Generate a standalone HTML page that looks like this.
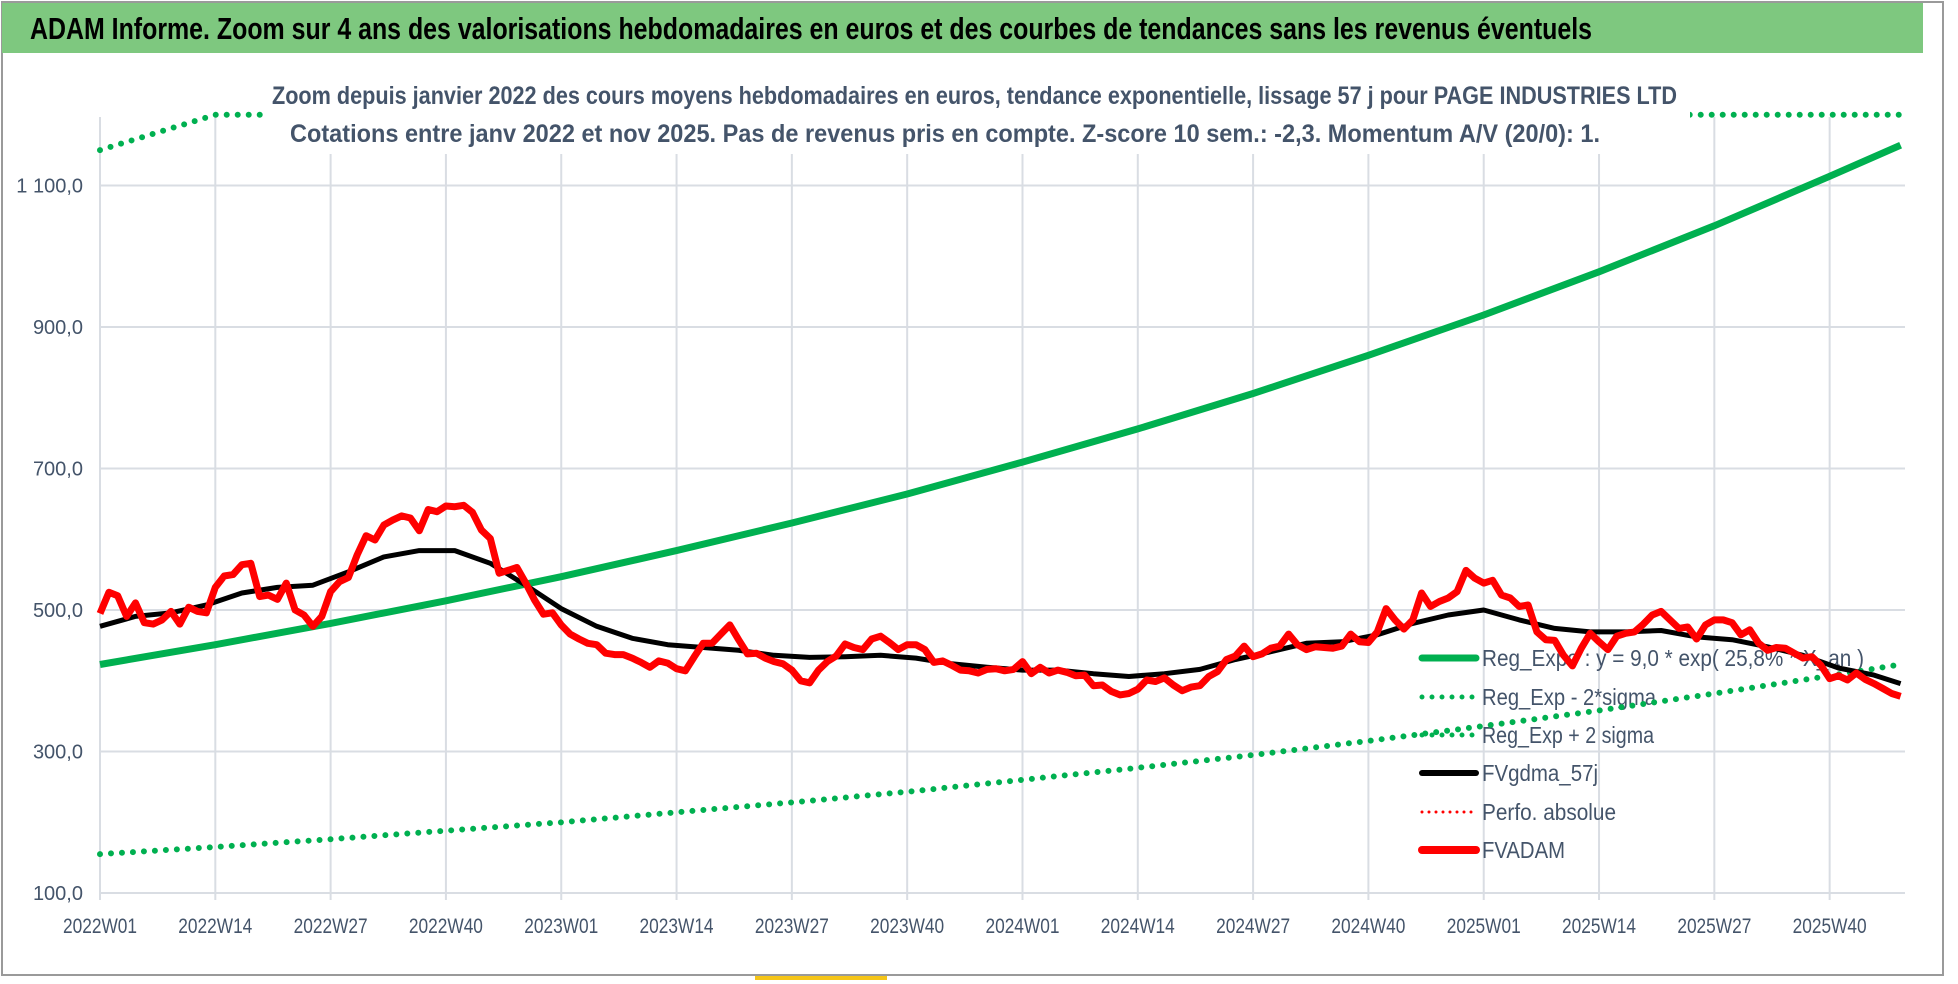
<!DOCTYPE html>
<html><head><meta charset="utf-8"><style>
html,body{margin:0;padding:0;background:#fff;}
svg{display:block;font-family:"Liberation Sans",sans-serif;}
</style></head><body>
<svg id="chart" width="1958" height="984" viewBox="0 0 1958 984" xmlns="http://www.w3.org/2000/svg">
<rect x="0" y="0" width="1958" height="984" fill="#fff"/>
<rect x="2" y="2" width="1941" height="973" fill="none" stroke="#9a9a9a" stroke-width="2"/>
<rect x="2" y="3" width="1921" height="50" fill="#7ec87f"/>
<rect x="755" y="976" width="132" height="4" fill="#f5c518"/>
<text x="30" y="39" font-size="31" font-weight="bold" fill="#000" textLength="1562" lengthAdjust="spacingAndGlyphs">ADAM Informe. Zoom sur 4 ans des valorisations hebdomadaires en euros et des courbes de tendances sans les revenus éventuels</text>
<g id="grid"></g>
<g id="legend"></g>
<g id="series"></g>
<rect x="265" y="62" width="1425" height="92" fill="#fff"/>
<text x="272" y="104" font-size="25" font-weight="bold" fill="#44546a" textLength="1405" lengthAdjust="spacingAndGlyphs">Zoom depuis janvier 2022 des cours moyens hebdomadaires en euros, tendance exponentielle, lissage 57 j pour PAGE INDUSTRIES LTD</text>
<text x="290" y="142" font-size="25" font-weight="bold" fill="#44546a" textLength="1310" lengthAdjust="spacingAndGlyphs">Cotations entre janv 2022 et nov 2025. Pas de revenus pris en compte. Z-score 10 sem.: -2,3. Momentum A/V (20/0): 1.</text>
</svg>
<script>
const yTicks=[100,300,500,700,900,1100];
const yTickLabels=["100,0","300,0","500,0","700,0","900,0","1 100,0"];
const xTickWeeks=[0,13,26,39,52,65,78,91,104,117,130,143,156,169,182,195];
const xTickLabels=["2022W01","2022W14","2022W27","2022W40","2023W01","2023W14","2023W27","2023W40","2024W01","2024W14","2024W27","2024W40","2025W01","2025W14","2025W27","2025W40"];
const regWeeks=[0,13,26,39,52,65,78,91,104,117,130,143,156,169,182,195,203];
const regValues=[423,451,481,513,547,584,623,664,709,756,806,860,917,978,1043,1113,1157];
const lowerValues=[155,165,176,188,200,214,228,243,260,277,295,315,336,358,382,407,423];
const upperValues=[1150,1227,1308,1395,1488,1588,1694,1806,1928,2056,2193,2339,2494,2660,2837,3027,3147];
const priceValues=[495,525,520,491,510,482,480,486,498,480,504,498,496,532,548,550,564,566,519,521,515,538,500,493,477,491,526,540,546,578,605,599,620,627,633,630,612,642,639,647,646,648,638,613,601,552,556,560,538,514,494,496,479,466,459,453,451,439,437,437,432,426,419,428,425,417,414,434,
453,453,466,479,458,438,439,432,427,424,415,400,397,415,427,435,452,447,444,459,463,454,444,451,451,444,426,428,422,415,414,411,416,417,414,416,427,410,419,411,415,412,407,408,393,394,385,380,382,388,401,399,404,394,386,391,393,406,413,430,435,449,434,438,446,449,466,451,444,448,
447,446,449,466,455,454,469,502,486,473,486,524,505,512,517,526,556,545,538,542,521,517,505,507,469,458,457,436,421,446,467,455,444,463,467,469,480,493,498,486,474,476,459,479,486,486,482,465,472,453,443,447,446,439,432,434,422,403,407,401,411,402,396,389,382,378];
const smoothWeeks=[0,4,8,12,16,20,24,28,32,36,40,44,48,52,56,60,64,68,72,76,80,84,88,92,96,100,104,108,112,116,120,124,128,132,136,140,144,148,152,156,160,164,168,172,176,180,184,188,192,196,200,203];
const smoothValues=[477,491,496,507,524,532,535,554,575,584,584,566,535,502,477,460,451,447,443,436,433,434,436,432,424,419,415,415,410,406,410,416,430,441,453,455,465,481,493,500,486,474,469,469,471,462,458,448,436,418,408,396];
const legendLabels=["Reg_Expo : y = 9,0 * exp( 25,8% * X_an )","Reg_Exp - 2*sigma","Reg_Exp + 2 sigma","FVgdma_57j","Perfo. absolue","FVADAM"];

const NS="http://www.w3.org/2000/svg";
const X0=100,PXW=8.87,Y0=893,PXV=0.7075,XR=1905,YMAX=1200;
function xs(w){return X0+w*PXW;}
function ys(v){return Y0-(Math.min(v,YMAX)-100)*PXV;}
function mk(tag,parent,attrs){const e=document.createElementNS(NS,tag);for(const k in attrs)e.setAttribute(k,attrs[k]);parent.appendChild(e);return e;}
const grid=document.getElementById('grid'),series=document.getElementById('series'),legend=document.getElementById('legend');

yTicks.forEach((v,i)=>{
  const l=mk('line',grid,{x1:X0,x2:XR,y1:ys(v),y2:ys(v),stroke:'#d9dde3','stroke-width':2});
  
  
  const t=mk('text',grid,{x:83,y:ys(v)+7,'text-anchor':'end','font-size':20,fill:'#44546a'});
  t.textContent=yTickLabels[i];
  
  
});
xTickWeeks.forEach((w,i)=>{
  const l=mk('line',grid,{x1:xs(w),x2:xs(w),y1:117,y2:900,stroke:'#d9dde3','stroke-width':2});
  
  
  const t=mk('text',grid,{x:xs(w)-37,y:933,'font-size':21,fill:'#44546a',textLength:74,lengthAdjust:'spacingAndGlyphs'});
  t.textContent=xTickLabels[i];
  
  
});

const legStyles=[
 {stroke:'#00b050',w:7,dash:null,len:382},
 {stroke:'#00b050',w:5,dash:'0 10',len:174},
 {stroke:'#00b050',w:5,dash:'0 10',len:172},
 {stroke:'#000',w:6,dash:null,len:116},
 {stroke:'#ff0000',w:3,dash:'0 7',len:134},
 {stroke:'#ff0000',w:8,dash:null,len:83}];
const legY=[658,697,735,773,812,850];
legendLabels.forEach((lab,i)=>{
  const s=legStyles[i];
  const l=mk('line',legend,{x1:1422,x2:1476,y1:legY[i],y2:legY[i],stroke:s.stroke,'stroke-width':s.w,'stroke-linecap':'round'});
  if(s.dash)l.setAttribute('stroke-dasharray',s.dash);
  
  
  const t=mk('text',legend,{x:1482,y:legY[i]+8,'font-size':23,fill:'#44546a',textLength:s.len,lengthAdjust:'spacingAndGlyphs'});
  t.textContent=lab;
  
  
});

function pts(weeks,vals){return vals.map((v,i)=>xs(weeks[i]).toFixed(1)+','+ys(v).toFixed(1)).join(' ');}
const priceWeeks=priceValues.map((v,i)=>i);
const lower=mk('polyline',series,{points:pts(regWeeks,lowerValues),fill:'none',stroke:'#00b050','stroke-width':6,'stroke-dasharray':'0 11','stroke-linecap':'round'});


const upper=mk('polyline',series,{points:pts(regWeeks,upperValues),fill:'none',stroke:'#00b050','stroke-width':6,'stroke-dasharray':'0 11','stroke-linecap':'round'});


const reg=mk('polyline',series,{points:pts(regWeeks,regValues),fill:'none',stroke:'#00b050','stroke-width':7,'stroke-linejoin':'round'});


const sm=mk('polyline',series,{points:pts(smoothWeeks,smoothValues),fill:'none',stroke:'#000','stroke-width':5,'stroke-linejoin':'round'});


const pr=mk('polyline',series,{points:pts(priceWeeks,priceValues),fill:'none',stroke:'#ff0000','stroke-width':7,'stroke-linejoin':'round'});


</script>
</body></html>
